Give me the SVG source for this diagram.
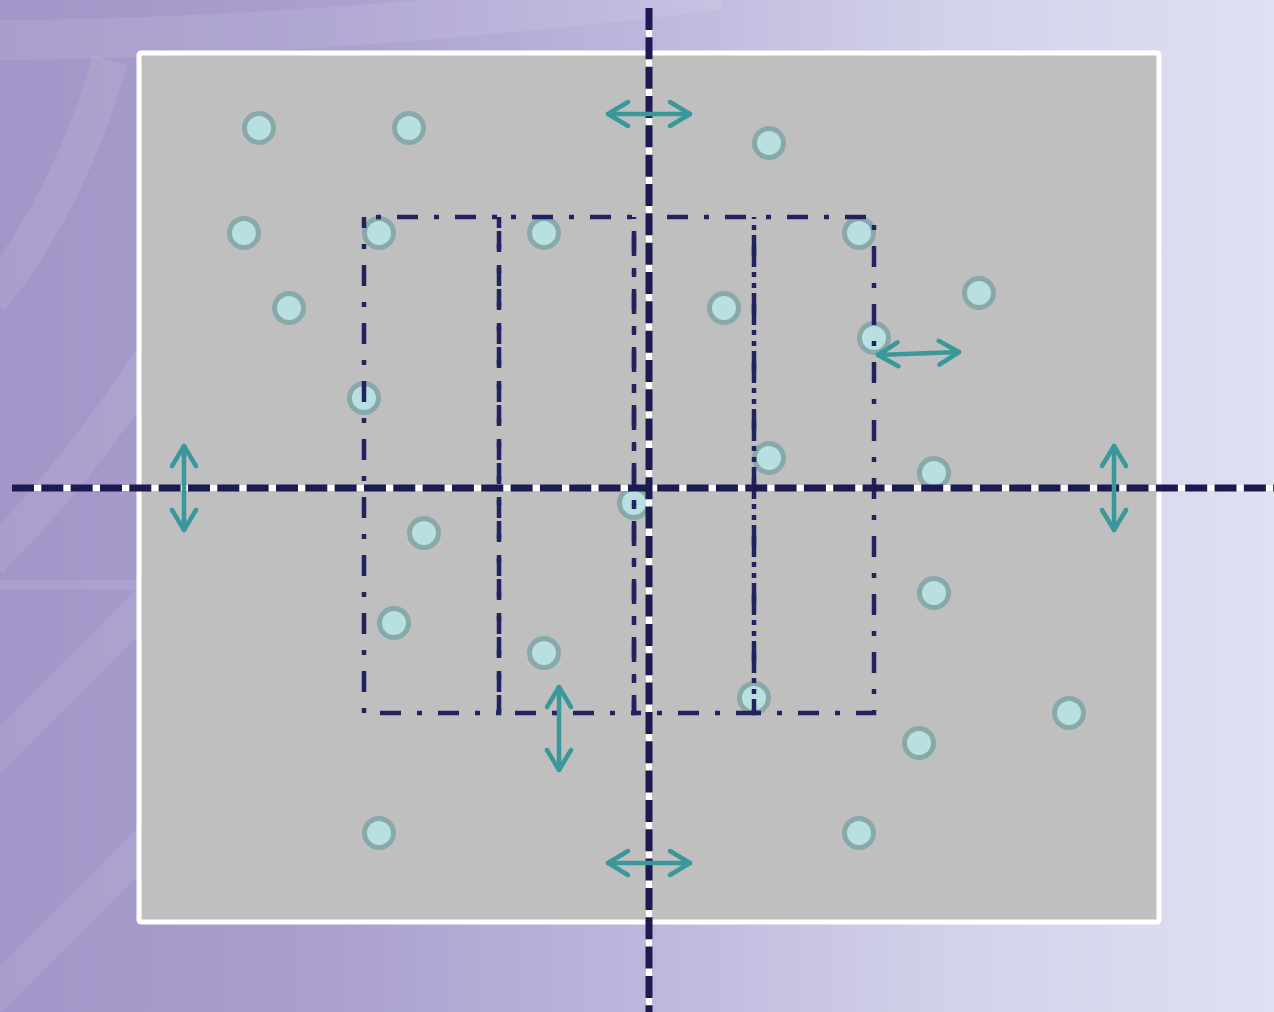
<svg xmlns="http://www.w3.org/2000/svg" width="1274" height="1012" viewBox="0 0 1274 1012">
  <defs>
    <linearGradient id="bg" x1="0" y1="0" x2="1" y2="0">
      <stop offset="0" stop-color="#a295c7"/>
      <stop offset="0.25" stop-color="#aa9fcf"/>
      <stop offset="0.5" stop-color="#bdb6dc"/>
      <stop offset="0.75" stop-color="#d2d2ea"/>
      <stop offset="1" stop-color="#dfe0f1"/>
    </linearGradient>
    <marker id="head" markerUnits="userSpaceOnUse" viewBox="-26 -16 30 32" refX="0" refY="0" markerWidth="30" markerHeight="32" orient="auto-start-reverse">
      <path d="M-20 -12 L0 0 L-20 12" fill="none" stroke="#3a989b" stroke-width="4.5" stroke-linecap="round" stroke-linejoin="round"/>
    </marker>
  </defs>
  <style>
    .band { fill: none; stroke: #ffffff; stroke-opacity: 0.09; }
    .node circle { fill: #b8e0e1; stroke: #89a8a9; stroke-width: 5; }
    .zone { fill: none; stroke: #22225f; stroke-width: 4.5; stroke-dasharray: 21 16 5 16; stroke-dashoffset: 25; }
    .axis-bg { stroke: #ffffff; stroke-width: 6; }
    .axis { stroke: #1b1b52; stroke-width: 7; stroke-dasharray: 22 7.33; }
    .arrow { fill: none; stroke: #3a989b; stroke-width: 4.5; stroke-linecap: round; marker-start: url(#head); marker-end: url(#head); }
  </style>

  <!-- background -->
  <rect x="0" y="0" width="1274" height="1012" fill="url(#bg)"/>
  <g id="background-bands">
    <path class="band" d="M-20 40 Q 300 40 720 -10" stroke-width="40"/>
    <path class="band" d="M110 60 Q 70 200 -10 300" stroke-width="36"/>
    <path class="band" d="M150 360 Q 80 470 -10 560" stroke-width="36"/>
    <path class="band" d="M-10 585 L 140 585" stroke-width="10"/>
    <path class="band" d="M-10 760 L 150 600" stroke-width="34"/>
    <path class="band" d="M-10 1000 L 150 840" stroke-width="34"/>
  </g>

  <!-- board -->
  <rect id="board" x="139" y="53" width="1020" height="869" rx="2" fill="#bfbfbf" stroke="#ffffff" stroke-width="5"/>

  <!-- points -->
  <g id="points" class="node">
    <g id="p1"><circle cx="259" cy="128" r="14.5"/></g>
    <g id="p2"><circle cx="409" cy="128" r="14.5"/></g>
    <g id="p3"><circle cx="769" cy="143" r="14.5"/></g>
    <g id="p4"><circle cx="244" cy="233" r="14.5"/></g>
    <g id="p5"><circle cx="379" cy="233" r="14.5"/></g>
    <g id="p6"><circle cx="544" cy="233" r="14.5"/></g>
    <g id="p7"><circle cx="859" cy="233" r="14.5"/></g>
    <g id="p8"><circle cx="289" cy="308" r="14.5"/></g>
    <g id="p9"><circle cx="724" cy="308" r="14.5"/></g>
    <g id="p10"><circle cx="979" cy="293" r="14.5"/></g>
    <g id="p11"><circle cx="874" cy="338" r="14.5"/></g>
    <g id="p12"><circle cx="364" cy="398" r="14.5"/></g>
    <g id="p13"><circle cx="769" cy="458" r="14.5"/></g>
    <g id="p14"><circle cx="934" cy="473" r="14.5"/></g>
    <g id="p15"><circle cx="634" cy="503" r="14.5"/></g>
    <g id="p16"><circle cx="424" cy="533" r="14.5"/></g>
    <g id="p17"><circle cx="934" cy="593" r="14.5"/></g>
    <g id="p18"><circle cx="394" cy="623" r="14.5"/></g>
    <g id="p19"><circle cx="544" cy="653" r="14.5"/></g>
    <g id="p20"><circle cx="754" cy="698" r="14.5"/></g>
    <g id="p21"><circle cx="1069" cy="713" r="14.5"/></g>
    <g id="p22"><circle cx="919" cy="743" r="14.5"/></g>
    <g id="p23"><circle cx="379" cy="833" r="14.5"/></g>
    <g id="p24"><circle cx="859" cy="833" r="14.5"/></g>
  </g>

  <!-- dash-dot zones -->
  <g id="zones">
    <rect id="zone1" class="zone" x="364" y="217" width="135" height="496"/>
    <rect id="zone2" class="zone" x="499" y="217" width="135" height="496"/>
    <rect id="zone3" class="zone" x="634" y="217" width="120" height="496"/>
    <rect id="zone4" class="zone" x="754" y="217" width="120" height="496"/>
  </g>

  <!-- axes -->
  <g id="axes">
    <line class="axis-bg" x1="12" y1="488" x2="1274" y2="488"/>
    <line class="axis-bg" x1="649" y1="8" x2="649" y2="1012"/>
    <line class="axis" x1="12" y1="488" x2="1274" y2="488"/>
    <line class="axis" x1="649" y1="8" x2="649" y2="1012"/>
  </g>

  <!-- connectors (double arrows) -->
  <g id="connectors">
    <line class="arrow" x1="608" y1="114" x2="690" y2="114"/>
    <line class="arrow" x1="878" y1="355" x2="959" y2="352"/>
    <line class="arrow" x1="184" y1="446" x2="184" y2="530"/>
    <line class="arrow" x1="1114" y1="446" x2="1114" y2="530"/>
    <line class="arrow" x1="559" y1="687" x2="559" y2="770"/>
    <line class="arrow" x1="608" y1="863" x2="690" y2="863"/>
  </g>
</svg>
